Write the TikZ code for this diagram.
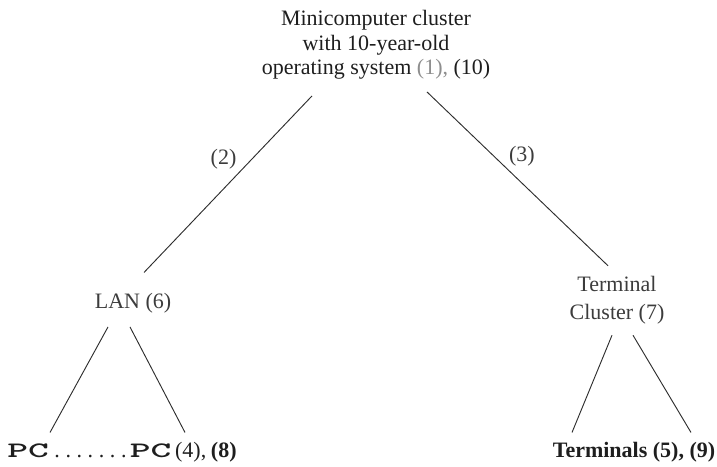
\documentclass[tikz,border=0pt]{standalone}
\usepackage{fontspec}
\setmainfont{Liberation Serif}
\usepackage{graphicx}
\usepackage{tikz}
\usetikzlibrary{calc}
\definecolor{inkcol}{HTML}{1E1E1E}
\definecolor{softcol}{HTML}{3C3C3C}
\definecolor{markcol}{HTML}{8E8E8E}
\definecolor{linkcol}{HTML}{2E2E2E}
% wide bold typewriter for the PC labels
\newcommand{\pcword}{\scalebox{1.8}[1]{\ttfamily\bfseries PC}}
\newcommand{\pcdot}{\hspace{4.2pt}.}

\begin{document}
\begin{tikzpicture}[
  x=0.75pt, y=-0.75pt,
  every node/.style={font=\fontsize{16.5}{18.5}\selectfont, text=inkcol, inner sep=0pt},
  treenode/.style={align=center},
  leafnode/.style={anchor=base},
  edgelab/.style={text=softcol},
  link/.style={draw=linkcol, line width=0.7pt}
]
\useasboundingbox (0,0) rectangle (717,467);

%% ── Nodes of the network tree ───────────────────────────────
\node[treenode] (root) at (376,45)
      {Minicomputer cluster\\with 10-year-old\\operating system
       {\color{markcol}(1),} (10)};
\node[leafnode, text=softcol] (lan) at (133,308) {LAN (6)};
\node[treenode, font=\fontsize{16.5}{21}\selectfont, text=softcol]
      (term) at (617,300) {Terminal\\Cluster (7)};
\node[anchor=base west] (pc) at (7,457)
      {\pcword\pcdot\pcdot\pcdot\pcdot\pcdot\pcdot\pcdot\hspace{2.5pt}\pcword
       \,(4),\hspace{3.5pt}\textbf{(8)}};
\node[leafnode] (terms) at (634,457) {\textbf{Terminals (5), (9)}};

%% ── Links from the cluster ───────────────────────────────────
\draw[link] ([shift={(-64,16)}]root.south) -- ([shift={(11,-20)}]lan.north)
      node[edgelab, pos=0.36, left=11pt] (l2) {(2)};
\draw[link] ([shift={(51,12)}]root.south) -- ([shift={(-9,-10)}]term.north)
      node[edgelab, pos=0.37, right=11pt] (l3) {(3)};

%% ── Links down to the end devices ────────────────────────────
\draw[link] ([shift={(-25,14)}]lan.south) -- ([shift={(43,-9)}]pc.north west);
\draw[link] ([shift={(-3,14)}]lan.south) -- ([shift={(178,-9)}]pc.north west);
\draw[link] ([shift={(-5,11)}]term.south) -- ([shift={(-62,-9)}]terms.north);
\draw[link] ([shift={(16,11)}]term.south) -- ([shift={(57,-9)}]terms.north);

\end{tikzpicture}
\end{document}
